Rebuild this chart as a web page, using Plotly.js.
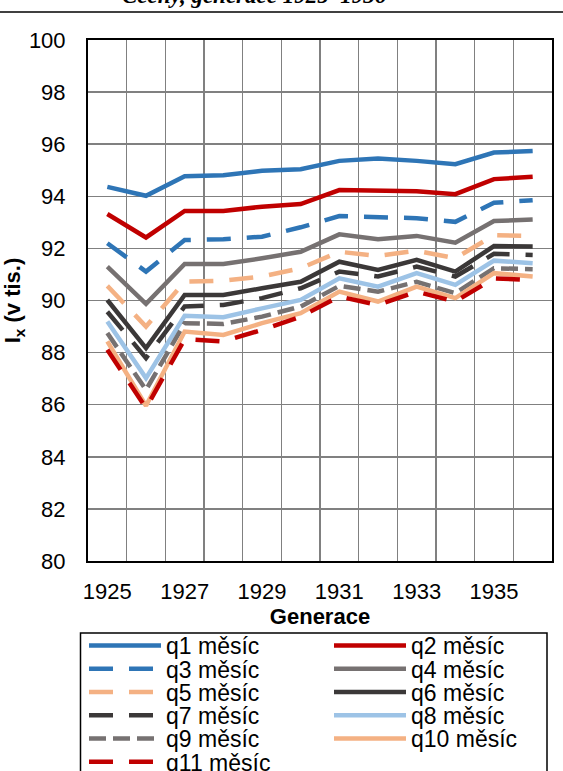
<!DOCTYPE html>
<html>
<head>
<meta charset="utf-8">
<script src="https://cdn.plot.ly/plotly-3.0.1.min.js"></script>
<style>html,body{margin:0;padding:0;background:#fff;}#chart{width:563px;height:771px;}</style>
</head>
<body>
<div id="chart"></div>
<script>
const years = [1925,1926,1927,1928,1929,1930,1931,1932,1933,1934,1935,1936];
const xTickVals = [1925,1927,1929,1931,1933,1935];
const gridVals = [1925.5,1926.5,1927.5,1928.5,1929.5,1930.5,1931.5,1932.5,1933.5,1934.5,1935.5,1936.5];

const seriesNames = ["q1 měsíc","q2 měsíc","q3 měsíc","q4 měsíc","q5 měsíc","q6 měsíc","q7 měsíc","q8 měsíc","q9 měsíc","q10 měsíc","q11 měsíc"];
const q1 = [94.36, 94.02, 94.77, 94.81, 94.98, 95.04, 95.36, 95.45, 95.36, 95.23, 95.68, 95.74];
const q2 = [93.32, 92.42, 93.44, 93.44, 93.60, 93.70, 94.24, 94.21, 94.19, 94.08, 94.66, 94.75];
const q3 = [92.20, 91.11, 92.32, 92.35, 92.45, 92.81, 93.24, 93.19, 93.16, 93.02, 93.75, 93.85];
const q4 = [91.30, 89.87, 91.40, 91.40, 91.62, 91.87, 92.54, 92.35, 92.48, 92.22, 93.05, 93.11];
const q5 = [90.56, 89.00, 90.72, 90.76, 90.92, 91.24, 91.87, 91.71, 91.91, 91.62, 92.51, 92.48];
const q6 = [90.02, 88.17, 90.21, 90.21, 90.47, 90.72, 91.49, 91.17, 91.56, 91.11, 92.09, 92.07];
const q7 = [89.57, 87.79, 89.77, 89.83, 90.09, 90.47, 91.11, 90.92, 91.30, 90.92, 91.79, 91.75];
const q8 = [89.19, 87.02, 89.41, 89.36, 89.70, 90.02, 90.85, 90.53, 91.05, 90.60, 91.53, 91.43];
const q9 = [88.75, 86.57, 89.13, 89.10, 89.38, 89.77, 90.56, 90.34, 90.72, 90.28, 91.24, 91.20];
const q10 = [88.43, 85.96, 88.81, 88.68, 89.13, 89.51, 90.34, 89.96, 90.53, 90.09, 91.05, 90.92];
const q11 = [88.11, 85.87, 88.52, 88.43, 88.87, 89.38, 90.15, 89.83, 90.34, 89.96, 90.85, 90.79];
const allSeries = [q1,q2,q3,q4,q5,q6,q7,q8,q9,q10,q11];

const colors = ["#2E75B6","#C00000","#2E75B6","#767171","#F4B183","#3B3838","#3B3838","#9DC3E6","#767171","#F4B183","#C00000"];
const LONG = "24px,16px", SHORT = "17px,7px";
const dashes = ["solid","solid",LONG,"solid",LONG,"solid",LONG,"solid",SHORT,"solid",LONG];

const plotTop = 40, plotBottom = 561, plotLeft = 88, plotRight = 552;
const ph = plotBottom - plotTop, pw = plotRight - plotLeft;
const py = p => 1 - (p - plotTop) / ph;
const px = p => (p - plotLeft) / pw;

const legendKey = i => (i === 0 ? "legend" : "legend" + (i + 1));

const traces = allSeries.map((vals, i) => ({
  type: "scatter", mode: "lines", x: years, y: vals, name: seriesNames[i],
  legend: legendKey(i),
  line: {color: colors[i], width: 4.5, dash: dashes[i]},
  xaxis: "x", yaxis: "y", hoverinfo: "skip"
}));

const font = {family: "Liberation Sans, Arial, sans-serif", size: 21, color: "#000"};
const rowCenters = [645.5, 668.7, 692, 715.2, 738.5, 761.7];
const colLeft = [84, 329];
const legendBase = {
  orientation: "v", xanchor: "left", yanchor: "middle",
  font: {family: font.family, size: 23, color: "#000"},
  bgcolor: "rgba(0,0,0,0)", borderwidth: 0,
  itemwidth: 72, itemclick: false, itemdoubleclick: false
};
const layout = {
  width: 563, height: 771,
  margin: {l: plotLeft, r: 563 - plotRight, t: plotTop, b: 771 - plotBottom, autoexpand: false},
  paper_bgcolor: "#fff", plot_bgcolor: "#fff",
  font: font,
  showlegend: true,
  xaxis: {
    range: [1924.5, 1936.5], tickmode: "array", tickvals: gridVals, showticklabels: false, ticks: "",
    showgrid: true, gridcolor: "#808080", gridwidth: 1.5, zeroline: false,
    showline: true, mirror: true, linecolor: "#000", linewidth: 2, fixedrange: true
  },
  xaxis2: {
    overlaying: "x", anchor: "y", side: "bottom",
    range: [1924.5, 1936.5], tickmode: "array", tickvals: xTickVals, ticktext: xTickVals.map(String),
    showgrid: false, zeroline: false, showline: false, ticks: "",
    tickfont: {family: font.family, size: 22, color: "#000"}, ticklabelstandoff: 15,
    title: {text: "Generace", font: {family: font.family, size: 22, color: "#000", weight: "bold"}, standoff: 3},
    fixedrange: true
  },
  yaxis: {
    range: [80, 100], tickmode: "linear", tick0: 80, dtick: 2, ticks: "",
    showgrid: true, gridcolor: "#808080", gridwidth: 1.5, zeroline: false,
    showline: true, mirror: true, linecolor: "#000", linewidth: 2,
    tickfont: {family: font.family, size: 22, color: "#000"}, ticklabelstandoff: 16,
    title: {text: "I<sub>x</sub> (v tis.)", font: {family: font.family, size: 22, color: "#000", weight: "bold"}, standoff: 6},
    fixedrange: true
  },
  shapes: [
    {type: "line", xref: "paper", yref: "paper", x0: px(0), x1: px(563), y0: py(12), y1: py(12), line: {color: "#000", width: 1.5}},
    {type: "rect", xref: "paper", yref: "paper", x0: px(80.5), x1: px(547), y0: py(633), y1: py(820), line: {color: "#000", width: 1.5}, fillcolor: "rgba(0,0,0,0)", layer: "below"}
  ],
  annotations: [
    {xref: "paper", yref: "paper", x: px(254), y: py(10), xanchor: "center", yanchor: "bottom", showarrow: false,
     text: "<b><i>Čechy, generace 1925–1936</i></b>", font: {family: "Liberation Serif, Times New Roman, serif", size: 23, color: "#000"}}
  ]
};
allSeries.forEach((_, i) => {
  layout[legendKey(i)] = Object.assign({}, legendBase, {
    x: px(colLeft[i % 2]), y: py(rowCenters[Math.floor(i / 2)])
  });
});
// overlay dummy trace so xaxis2 (tick labels) renders
traces.push({type: "scatter", mode: "lines", x: [], y: [], xaxis: "x2", yaxis: "y", showlegend: false, hoverinfo: "skip"});
Plotly.newPlot("chart", traces, layout, {staticPlot: true, displayModeBar: false});
</script>
</body>
</html>
